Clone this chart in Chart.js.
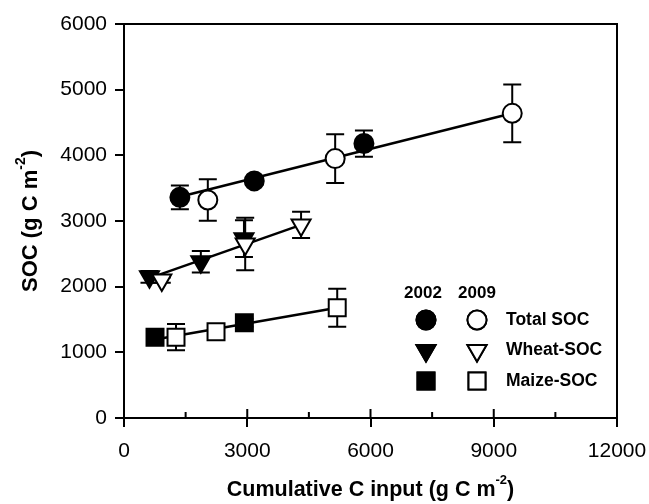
<!DOCTYPE html>
<html>
<head>
<meta charset="utf-8">
<script src="https://cdn.jsdelivr.net/npm/chart.js@4"></script>
<style>
  html, body { margin: 0; padding: 0; background: #fff; }
</style>
</head>
<body>
<canvas id="chart" width="649" height="504"></canvas>
<script>
// values
var xTicks = [0, 3000, 6000, 9000, 12000];
var yTicks = [0, 1000, 2000, 3000, 4000, 5000, 6000];

var totalX02 = [1360, 3170, 5840];
var totalY02 = [3360, 3610, 4180];
var totalE02 = [180, 60, 200];
var totalX09 = [2040, 5140, 9450];
var totalY09 = [3320, 3950, 4640];
var totalE09 = [315, 370, 440];

var wheatX02 = [620, 1870, 2920];
var wheatY02 = [2150, 2380, 2730];
var wheatE02 = [90, 165, 280];
var wheatX09 = [920, 2950, 4310];
var wheatY09 = [2100, 2650, 2940];
var wheatE09 = [40, 400, 200];

var maizeX02 = [755, 2930];
var maizeY02 = [1230, 1450];
var maizeE02 = [60, 60];
var maizeX09 = [1266, 2240, 5190];
var maizeY09 = [1230, 1315, 1680];
var maizeE09 = [200, 60, 290];

// fitted lines (end points)
var totalLineX = [1360, 9450];
var totalLineY = [3370, 4640];
var wheatLineX = [620, 4310];
var wheatLineY = [2130, 2940];
var maizeLineX = [755, 5190];
var maizeLineY = [1195, 1680];

var FONT = "'Liberation Sans', Arial, sans-serif";

function pts(xs, ys, es) {
    return xs.map(function (x, i) { return { x: x, y: ys[i], e: es ? es[i] : 0 }; });
}

function markerSet(label, xs, ys, es, style, rot, filled, order) {
    return {
        label: label,
        data: pts(xs, ys, es),
        showLine: false,
        pointStyle: style,
        pointRotation: rot,
        pointRadius: style === 'rect' ? 12 : (style === 'triangle' ? 11 : 9.5),
        pointBorderWidth: 2,
        pointBorderColor: '#000',
        pointBackgroundColor: filled ? '#000' : '#fff',
        errorBars: true,
        order: order
    };
}

function lineSet(xs, ys) {
    return {
        data: pts(xs, ys),
        showLine: true,
        borderColor: '#000',
        borderWidth: 2.5,
        pointRadius: 0,
        order: 3
    };
}

var errorBars = {
    id: 'errorBars',
    beforeDatasetsDraw: function (chart) {
        var ctx = chart.ctx, xs = chart.scales.x, ys = chart.scales.y;
        ctx.save();
        ctx.strokeStyle = '#000';
        ctx.lineWidth = 2;
        chart.data.datasets.forEach(function (ds) {
            if (!ds.errorBars) return;
            ds.data.forEach(function (p) {
                if (!p.e) return;
                var px = xs.getPixelForValue(p.x);
                var top = ys.getPixelForValue(p.y + p.e);
                var bot = ys.getPixelForValue(p.y - p.e);
                ctx.beginPath();
                ctx.moveTo(px, top); ctx.lineTo(px, bot);
                ctx.moveTo(px - 9, top); ctx.lineTo(px + 9, top);
                ctx.moveTo(px - 9, bot); ctx.lineTo(px + 9, bot);
                ctx.stroke();
            });
        });
        ctx.restore();
    }
};

function drawParts(ctx, parts, size, cx, cy) {
    var widths = parts.map(function (p) {
        ctx.font = 'bold ' + (p.sup ? Math.round(size * 0.62) : size) + 'px ' + FONT;
        return ctx.measureText(p.t).width;
    });
    var total = widths.reduce(function (a, b) { return a + b; }, 0);
    var x = cx - total / 2;
    ctx.textAlign = 'left';
    ctx.textBaseline = 'middle';
    parts.forEach(function (p, i) {
        ctx.font = 'bold ' + (p.sup ? Math.round(size * 0.62) : size) + 'px ' + FONT;
        ctx.fillText(p.t, x, p.sup ? cy - size * 0.45 : cy);
        x += widths[i];
    });
}

var decor = {
    id: 'decor',
    afterDraw: function (chart) {
        var ctx = chart.ctx, a = chart.chartArea, xs = chart.scales.x;
        ctx.save();
        ctx.strokeStyle = '#000';
        ctx.fillStyle = '#000';
        ctx.lineWidth = 2;
        ctx.strokeRect(a.left, a.top, a.right - a.left, a.bottom - a.top);
        // inner halves of major x ticks and minor x ticks
        ctx.beginPath();
        xTicks.forEach(function (v, i) {
            var px = xs.getPixelForValue(v);
            ctx.moveTo(px, a.bottom); ctx.lineTo(px, a.bottom - 9);
            if (i < xTicks.length - 1) {
                var mx = xs.getPixelForValue(v + 1500);
                ctx.moveTo(mx, a.bottom); ctx.lineTo(mx, a.bottom - 6);
            }
        });
        ctx.stroke();

        // axis titles
        drawParts(ctx, [{ t: 'Cumulative C input (g C m' }, { t: '-2', sup: true }, { t: ')' }],
            21.5, (a.left + a.right) / 2, 490);
        ctx.save();
        ctx.translate(31, (a.top + a.bottom) / 2);
        ctx.rotate(-Math.PI / 2);
        drawParts(ctx, [{ t: 'SOC (g C m' }, { t: '-2', sup: true }, { t: ')' }], 22, 0, 0);
        ctx.restore();

        // legend
        var c1 = 426, c2 = 477, lx = 506;
        var rows = [
            { y: 320, style: 'circle', rot: 0, r: 9.5, text: 'Total SOC' },
            { y: 350.5, style: 'triangle', rot: 180, r: 11, text: 'Wheat-SOC' },
            { y: 381, style: 'rect', rot: 0, r: 12, text: 'Maize-SOC' }
        ];
        ctx.font = 'bold 17px ' + FONT;
        ctx.textAlign = 'center';
        ctx.textBaseline = 'middle';
        ctx.fillText('2002', 423, 293);
        ctx.fillText('2009', 477, 293);
        ctx.font = 'bold 17.5px ' + FONT;
        rows.forEach(function (r) {
            var opt = { pointStyle: r.style, rotation: r.rot, radius: r.r, borderWidth: 2 };
            ctx.fillStyle = '#000';
            Chart.helpers.drawPoint(ctx, opt, c1, r.y);
            ctx.fill(); ctx.stroke();
            ctx.fillStyle = '#fff';
            Chart.helpers.drawPoint(ctx, opt, c2, r.y);
            ctx.fill(); ctx.stroke();
            ctx.fillStyle = '#000';
            ctx.textAlign = 'left';
            ctx.fillText(r.text, lx, r.y);
        });
        ctx.restore();
    }
};

new Chart(document.getElementById('chart'), {
    type: 'scatter',
    data: {
        datasets: [
            lineSet(totalLineX, totalLineY),
            lineSet(wheatLineX, wheatLineY),
            lineSet(maizeLineX, maizeLineY),
            markerSet('Total SOC 2002', totalX02, totalY02, totalE02, 'circle', 0, true, 2),
            markerSet('Wheat-SOC 2002', wheatX02, wheatY02, wheatE02, 'triangle', 180, true, 2),
            markerSet('Maize-SOC 2002', maizeX02, maizeY02, maizeE02, 'rect', 0, true, 2),
            markerSet('Total SOC 2009', totalX09, totalY09, totalE09, 'circle', 0, false, 1),
            markerSet('Wheat-SOC 2009', wheatX09, wheatY09, wheatE09, 'triangle', 180, false, 1),
            markerSet('Maize-SOC 2009', maizeX09, maizeY09, maizeE09, 'rect', 0, false, 1)
        ]
    },
    options: {
        responsive: false,
        animation: false,
        layout: { padding: { left: 0, right: 32, top: 24, bottom: 0 } },
        plugins: { legend: { display: false }, tooltip: { enabled: false } },
        scales: {
            x: {
                type: 'linear', min: 0, max: 12000,
                afterBuildTicks: function (s) { s.ticks = xTicks.map(function (v) { return { value: v }; }); },
                afterFit: function (s) { s.height = 86; s.paddingLeft = 0; s.paddingRight = 0; },
                ticks: { color: '#000', font: { family: FONT, size: 21 }, padding: 12, maxRotation: 0,
                         callback: function (v) { return String(v); } },
                grid: { drawOnChartArea: false, color: '#000', lineWidth: 2, tickLength: 9 },
                border: { color: '#000', width: 2 }
            },
            y: {
                type: 'linear', min: 0, max: 6000,
                afterBuildTicks: function (s) { s.ticks = yTicks.map(function (v) { return { value: v }; }); },
                afterFit: function (s) { s.width = 124; s.paddingTop = 0; s.paddingBottom = 0; },
                ticks: { color: '#000', font: { family: FONT, size: 21 }, padding: 8,
                         callback: function (v) { return String(v); } },
                grid: { drawOnChartArea: false, color: '#000', lineWidth: 2, tickLength: 9 },
                border: { color: '#000', width: 2 }
            }
        }
    },
    plugins: [errorBars, decor]
});
</script>
</body>
</html>
